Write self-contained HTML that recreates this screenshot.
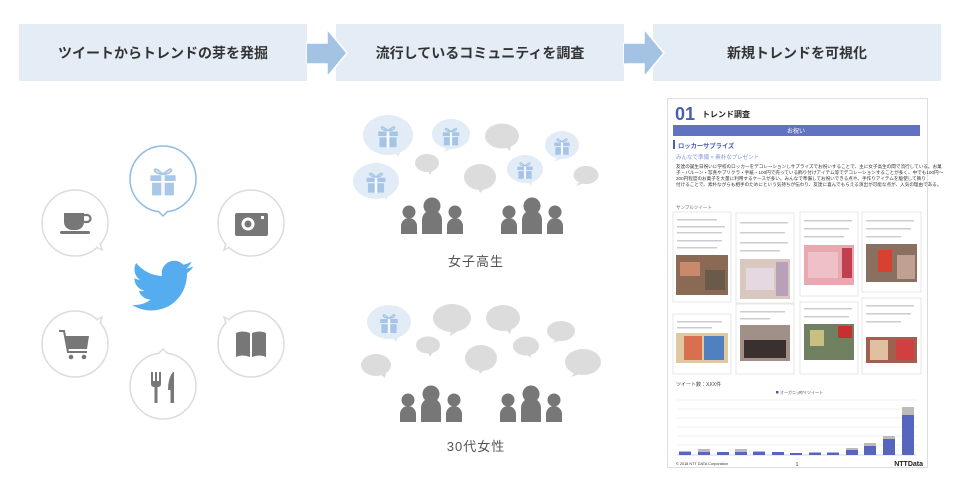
<!DOCTYPE html>
<html><head><meta charset="utf-8"><style>
html,body{margin:0;padding:0;background:#fff;}
svg{display:block;font-family:"Liberation Sans","Noto Sans CJK JP",sans-serif;}
</style></head><body>
<svg width="960" height="492" viewBox="0 0 960 492" xmlns="http://www.w3.org/2000/svg">
<defs>
<g id="gift">
  <path d="M-4,-9 C-9,-13 -9,-6 0,-6 C9,-6 9,-13 4,-9 L0,-6 Z" fill="none" stroke="currentColor" stroke-width="1.6"/>
  <rect x="-11" y="-5" width="22" height="5" fill="currentColor"/>
  <rect x="-9.5" y="1.5" width="19" height="11" fill="currentColor"/>
  <rect x="-1.5" y="-5" width="3" height="18" fill="#fff" opacity="0.9"/>
</g>
<g id="person3">
  <circle cx="-23" cy="-22" r="6.5" fill="#777"/>
  <path d="M-31,0 V-8 A8,8 0 0 1 -15,-8 V0 Z" fill="#777"/>
  <circle cx="0" cy="-28" r="8.5" fill="#777"/>
  <path d="M-10,0 V-14 A10,10 0 0 1 10,-14 V0 Z" fill="#777"/>
  <circle cx="23" cy="-22" r="6.5" fill="#777"/>
  <path d="M15,0 V-8 A8,8 0 0 1 31,-8 V0 Z" fill="#777"/>
</g>
</defs>

<!-- header -->
<rect x="19" y="24" width="288" height="57" fill="#e4edf6"/>
<rect x="336" y="24" width="288" height="57" fill="#e4edf6"/>
<rect x="653" y="24" width="288" height="57" fill="#e4edf6"/>
<path d="M307,43 H327 V29 L347,53 L327,77 V64 H307 Z" fill="#a4c3e4" stroke="#fff" stroke-width="1.5"/>
<path d="M624,43 H644 V29 L664,53 L644,77 V64 H624 Z" fill="#a4c3e4" stroke="#fff" stroke-width="1.5"/>
<rect x="307" y="43.8" width="2" height="19.5" fill="#a4c3e4"/>
<rect x="624" y="43.8" width="2" height="19.5" fill="#a4c3e4"/>
<g font-size="14" font-weight="bold" fill="#333" text-anchor="middle">
<text x="163" y="58">ツイートからトレンドの芽を発掘</text>
<text x="480" y="58">流行しているコミュニティを調査</text>
<text x="797" y="58">新規トレンドを可視化</text>
</g>

<!-- left circles -->
<g fill="#fff" stroke="#dcdcdc" stroke-width="1.5">
  <circle cx="75" cy="223" r="33"/>
  <circle cx="251" cy="223" r="33"/>
  <circle cx="75" cy="344" r="33"/>
  <circle cx="251" cy="344" r="33"/>
  <circle cx="163" cy="386" r="33"/>
</g>
<!-- tails -->
<g fill="#fff" stroke="#dcdcdc" stroke-width="1.5">
  <path d="M96,247 L102,250 L100,243"/>
  <path d="M230,247 L224,250 L226,243"/>
  <path d="M96,320 L102,317 L100,324"/>
  <path d="M230,320 L224,317 L226,324"/>
  <path d="M158,354 L163,349 L168,354"/>
</g>
<circle cx="163" cy="179" r="33" fill="#fff" stroke="#8fbbe3" stroke-width="1.5"/>
<path d="M158,211 L163,216 L168,211" fill="#fff" stroke="#8fbbe3" stroke-width="1.5"/>
<g transform="translate(163,181) scale(1.15)" color="#a9c7e6"><use href="#gift"/></g>

<!-- coffee -->
<g fill="#777">
  <path d="M64,213 H84 V222 A8,8 0 0 1 76,230 H72 A8,8 0 0 1 64,222 Z"/>
  <path d="M84,215 H87 A3.5,3.5 0 0 1 87,222 H84" fill="none" stroke="#777" stroke-width="2.2"/>
  <rect x="60" y="231" width="30" height="3" rx="1.5"/>
</g>
<!-- camera -->
<g>
  <rect x="235" y="213" width="33" height="23" rx="2" fill="#777"/>
  <circle cx="248" cy="224" r="6.5" fill="#fff"/>
  <circle cx="248" cy="224" r="3.5" fill="#777"/>
  <rect x="261" y="216" width="3" height="3" fill="#fff"/>
</g>
<!-- cart -->
<g fill="none" stroke="#777" stroke-width="2">
  <path d="M59,331 H64 L68,352 H87"/>
</g>
<path d="M65,336 H89 L87,349 H68 Z" fill="#777"/>
<circle cx="71" cy="357" r="2.3" fill="#777"/><circle cx="84" cy="357" r="2.3" fill="#777"/>
<!-- book -->
<path d="M236,333 Q242,330 250,333 V357 Q242,354 236,357 Z" fill="#777"/>
<path d="M252,333 Q260,330 266,333 V357 Q260,354 252,357 Z" fill="#777"/>
<!-- fork knife -->
<g fill="#777">
  <rect x="151" y="372" width="2" height="10"/><rect x="155" y="372" width="2" height="10"/><rect x="159" y="372" width="2" height="10"/>
  <path d="M151,381 H161 V384 Q161,387 157.5,387 V403 H154.5 V387 Q151,387 151,384 Z"/>
  <path d="M173,372 Q168,378 168,390 H170.5 V403 H174 V372 Z"/>
</g>
<!-- twitter -->
<path transform="translate(132,255) scale(2.55)" fill="#55acee" d="M23.954 4.569c-.885.389-1.83.654-2.825.775 1.014-.611 1.794-1.574 2.163-2.723-.951.555-2.005.959-3.127 1.184-.896-.959-2.173-1.559-3.591-1.559-2.717 0-4.92 2.203-4.92 4.917 0 .39.045.765.127 1.124C7.691 8.094 4.066 6.13 1.64 3.161c-.427.722-.666 1.561-.666 2.475 0 1.71.87 3.213 2.188 4.096-.807-.026-1.566-.248-2.228-.616v.061c0 2.385 1.693 4.374 3.946 4.827-.413.111-.849.171-1.296.171-.314 0-.615-.03-.916-.086.631 1.953 2.445 3.377 4.604 3.417-1.68 1.319-3.809 2.105-6.102 2.105-.39 0-.779-.023-1.17-.067 2.189 1.394 4.768 2.209 7.557 2.209 9.054 0 13.999-7.496 13.999-13.986 0-.209 0-.42-.015-.63.961-.689 1.8-1.56 2.46-2.548l-.047-.02z"/>

<!-- middle top bubbles -->
<g>
  <ellipse cx="388" cy="135" rx="25" ry="20" fill="#e1ecf7"/><path d="M393,150 L398,157 L401,151Z" fill="#e1ecf7"/>
  <ellipse cx="451" cy="134" rx="19" ry="15" fill="#e1ecf7"/><path d="M448,146 L444,152 L453,148Z" fill="#e1ecf7"/>
  <ellipse cx="502" cy="136" rx="17" ry="12.5" fill="#dcdcdc"/><path d="M505,146 L510,151 L511,145Z" fill="#dcdcdc"/>
  <ellipse cx="562" cy="145" rx="17" ry="14" fill="#e1ecf7"/><path d="M558,156 L554,162 L563,158Z" fill="#e1ecf7"/>
  <ellipse cx="427" cy="163" rx="12" ry="9" fill="#dcdcdc"/><path d="M428,170 L430,175 L433,169Z" fill="#dcdcdc"/>
  <ellipse cx="376" cy="181" rx="23" ry="18" fill="#e1ecf7"/><path d="M381,195 L387,200 L388,193Z" fill="#e1ecf7"/>
  <ellipse cx="480" cy="177" rx="16" ry="13" fill="#dcdcdc"/><path d="M477,187 L480,193 L485,188Z" fill="#dcdcdc"/>
  <ellipse cx="525" cy="169" rx="18" ry="14" fill="#e1ecf7"/><path d="M527,180 L531,186 L533,180Z" fill="#e1ecf7"/>
  <ellipse cx="586" cy="175" rx="12.5" ry="9" fill="#dcdcdc"/><path d="M580,181 L576,186 L584,183Z" fill="#dcdcdc"/>
</g>
<g color="#a6c5e6">
  <g transform="translate(388,136) scale(0.9)"><use href="#gift"/></g>
  <g transform="translate(451,136) scale(0.75)"><use href="#gift"/></g>
  <g transform="translate(562,146) scale(0.7)"><use href="#gift"/></g>
  <g transform="translate(376,182) scale(0.85)"><use href="#gift"/></g>
  <g transform="translate(525,170) scale(0.7)"><use href="#gift"/></g>
</g>
<g transform="translate(432,234)"><use href="#person3"/></g>
<g transform="translate(532,234)"><use href="#person3"/></g>
<text x="476" y="266" font-size="13" fill="#555" text-anchor="middle" letter-spacing="1">女子高生</text>

<!-- middle bottom bubbles -->
<g fill="#dcdcdc">
  <ellipse cx="389" cy="322" rx="22" ry="17" fill="#e1ecf7"/><path d="M391,336 L396,342 L399,335Z" fill="#e1ecf7"/>
  <ellipse cx="452" cy="318" rx="19" ry="14"/><path d="M451,330 L450,336 L458,331Z"/>
  <ellipse cx="503" cy="318" rx="17" ry="13"/><path d="M505,329 L510,334 L512,328Z"/>
  <ellipse cx="561" cy="331" rx="14" ry="10"/><path d="M556,339 L553,343 L561,340Z"/>
  <ellipse cx="428" cy="345" rx="12" ry="8.5"/><path d="M428,352 L430,357 L433,352Z"/>
  <ellipse cx="376" cy="365" rx="15" ry="11"/><path d="M380,374 L385,378 L386,373Z"/>
  <ellipse cx="481" cy="358" rx="16" ry="13"/><path d="M478,368 L480,374 L485,369Z"/>
  <ellipse cx="526" cy="346" rx="13" ry="9.5"/><path d="M527,354 L530,358 L532,353Z"/>
  <ellipse cx="583" cy="362" rx="18" ry="13"/><path d="M575,372 L571,377 L580,374Z"/>
</g>
<g color="#a6c5e6"><g transform="translate(389,323) scale(0.8)"><use href="#gift"/></g></g>
<g transform="translate(431,422)"><use href="#person3"/></g>
<g transform="translate(531,422)"><use href="#person3"/></g>
<text x="476" y="451" font-size="13" fill="#555" text-anchor="middle" letter-spacing="1">30代女性</text>

<!-- report -->
<rect x="667.5" y="98.5" width="260" height="369" fill="#fff" stroke="#ddd"/>
<text x="675" y="120" font-size="18" font-weight="bold" fill="#4a5db0">01</text>
<text x="702" y="117" font-size="8" font-weight="bold" fill="#222">トレンド調査</text>
<rect x="673" y="125" width="247" height="11" fill="#6272c2"/>
<text x="796" y="133" font-size="6" fill="#fff" text-anchor="middle">お祝い</text>
<rect x="673" y="140" width="2" height="9" fill="#4a5db0"/>
<text x="678" y="148" font-size="6.3" font-weight="bold" fill="#4a5db0">ロッカーサプライズ</text>
<text x="676" y="159" font-size="5.5" fill="#7f94d6">みんなで準備 × 素朴なプレゼント</text>
<g font-size="4.6" fill="#333">
<text x="676" y="168">友達の誕生日祝いに学校のロッカーをデコレーションしサプライズでお祝いすることで、主に女子高生の間で流行している。お菓</text>
<text x="676" y="174">子・バルーン・写真やプリクラ・手紙・100円で売っている飾り付けアイテム等でデコレーションすることが多く、中でも100円～</text>
<text x="676" y="180">200円程度のお菓子を大量に利用するケースが多い。みんなで準備してお祝いできる点や、手作りアイテムを駆使して飾り</text>
<text x="676" y="186">付けることで、素朴ながらも相手のためにという気持ちが伝わり、友達に喜んでもらえる演出が可能な点が、人気の理由である。</text>
</g>
<text x="676" y="209" font-size="4.5" fill="#666">サンプルツイート</text>
<g fill="#fff" stroke="#e2e2e2" stroke-width="0.8">
  <rect x="673" y="212" width="58" height="90"/>
  <rect x="736" y="213" width="58" height="90"/>
  <rect x="800" y="212" width="58" height="84"/>
  <rect x="862" y="212" width="59" height="80"/>
  <rect x="673" y="314" width="58" height="60"/>
  <rect x="736" y="304" width="58" height="70"/>
  <rect x="800" y="302" width="58" height="72"/>
  <rect x="862" y="298" width="59" height="76"/>
</g>
<g fill="#ccc">
  <rect x="677" y="219" width="40" height="1.5"/><rect x="677" y="226" width="48" height="1.5"/><rect x="677" y="232" width="45" height="1.5"/><rect x="677" y="240" width="45" height="1.5"/><rect x="677" y="247" width="40" height="1.5"/>
  <rect x="740" y="222" width="48" height="1.5"/><rect x="740" y="232" width="45" height="1.5"/><rect x="740" y="242" width="48" height="1.5"/><rect x="740" y="250" width="40" height="1.5"/>
  <rect x="804" y="220" width="48" height="1.5"/><rect x="804" y="228" width="45" height="1.5"/><rect x="804" y="236" width="40" height="1.5"/>
  <rect x="866" y="220" width="48" height="1.5"/><rect x="866" y="228" width="45" height="1.5"/><rect x="866" y="236" width="35" height="1.5"/>
  <rect x="677" y="321" width="45" height="1.5"/><rect x="677" y="327" width="35" height="1.5"/>
  <rect x="740" y="311" width="45" height="1.5"/><rect x="740" y="318" width="30" height="1.5"/>
  <rect x="804" y="308" width="48" height="1.5"/><rect x="804" y="316" width="45" height="1.5"/>
  <rect x="866" y="305" width="48" height="1.5"/><rect x="866" y="313" width="45" height="1.5"/><rect x="866" y="321" width="35" height="1.5"/>
</g>
<rect x="676" y="255" width="52" height="40" fill="#8a6a55"/>
<rect x="680" y="262" width="20" height="14" fill="#c88a6a"/><rect x="705" y="270" width="20" height="20" fill="#6a5a4a"/>
<rect x="740" y="259" width="50" height="40" fill="#d8c8c0"/>
<rect x="746" y="268" width="28" height="22" fill="#e6d8e0"/><rect x="776" y="262" width="12" height="34" fill="#b8a0b8"/>
<rect x="804" y="245" width="50" height="40" fill="#e8a8b0"/>
<rect x="808" y="252" width="30" height="26" fill="#f0c0c8"/><rect x="842" y="248" width="10" height="30" fill="#c04050"/>
<rect x="866" y="244" width="51" height="38" fill="#8a7060"/>
<rect x="878" y="250" width="14" height="22" fill="#d84030"/><rect x="897" y="255" width="18" height="24" fill="#c0a090"/>
<rect x="676" y="333" width="52" height="30" fill="#e0c8a0"/>
<rect x="684" y="336" width="18" height="24" fill="#d87050"/><rect x="704" y="336" width="20" height="24" fill="#5080c0"/>
<rect x="740" y="325" width="50" height="36" fill="#a09088"/>
<rect x="744" y="340" width="42" height="18" fill="#3a3030"/>
<rect x="804" y="324" width="50" height="36" fill="#708060"/>
<rect x="810" y="330" width="14" height="16" fill="#c8c080"/><rect x="838" y="326" width="14" height="12" fill="#c83030"/>
<rect x="866" y="337" width="51" height="26" fill="#a06050"/>
<rect x="870" y="340" width="18" height="20" fill="#e0c0a0"/><rect x="896" y="340" width="18" height="20" fill="#d04040"/>

<text x="676" y="386" font-size="5" fill="#444">ツイート数：XXX件</text>
<rect x="776" y="391" width="2.5" height="2.5" fill="#4a5db0"/><text x="780" y="394" font-size="4" fill="#555">オーガニック</text>
<rect x="799" y="391" width="2.5" height="2.5" fill="#aaa"/><text x="803" y="394" font-size="4" fill="#555">リツイート</text>
<g stroke="#eee" stroke-width="0.7">
  <line x1="677" y1="400" x2="917" y2="400"/><line x1="677" y1="409" x2="917" y2="409"/><line x1="677" y1="418" x2="917" y2="418"/><line x1="677" y1="427" x2="917" y2="427"/><line x1="677" y1="436" x2="917" y2="436"/><line x1="677" y1="445" x2="917" y2="445"/>
</g>
<line x1="677" y1="455" x2="917" y2="455" stroke="#ccc" stroke-width="0.7"/>
<g fill="#bbb">
  <rect x="679" y="451" width="12" height="1.5"/><rect x="698" y="449" width="12" height="3"/><rect x="717" y="452" width="12" height="1"/><rect x="735" y="449" width="12" height="3"/><rect x="753" y="451" width="12" height="1"/><rect x="846" y="448" width="12" height="2"/><rect x="864" y="443" width="12" height="3"/><rect x="883" y="436" width="12" height="3"/><rect x="902" y="407" width="12" height="8"/>
</g>
<g fill="#5666bf">
  <rect x="679" y="452" width="12" height="3"/><rect x="698" y="452" width="12" height="3"/><rect x="717" y="452" width="12" height="3"/><rect x="735" y="452" width="12" height="3"/><rect x="753" y="452" width="12" height="3"/><rect x="772" y="452" width="12" height="3"/><rect x="790" y="453" width="12" height="2"/><rect x="809" y="452.5" width="12" height="2.5"/><rect x="827" y="452.5" width="12" height="2.5"/><rect x="846" y="450" width="12" height="5"/><rect x="864" y="446" width="12" height="9"/><rect x="883" y="439" width="12" height="16"/><rect x="902" y="415" width="12" height="40"/>
</g>
<text x="676" y="465" font-size="3.8" fill="#333">© 2018 NTT DATA Corporation</text>
<text x="797" y="466" font-size="5" fill="#333" text-anchor="middle">1</text>
<text x="923" y="466" font-size="7" font-weight="bold" fill="#222" text-anchor="end">NTTData</text>
</svg>
</body></html>
